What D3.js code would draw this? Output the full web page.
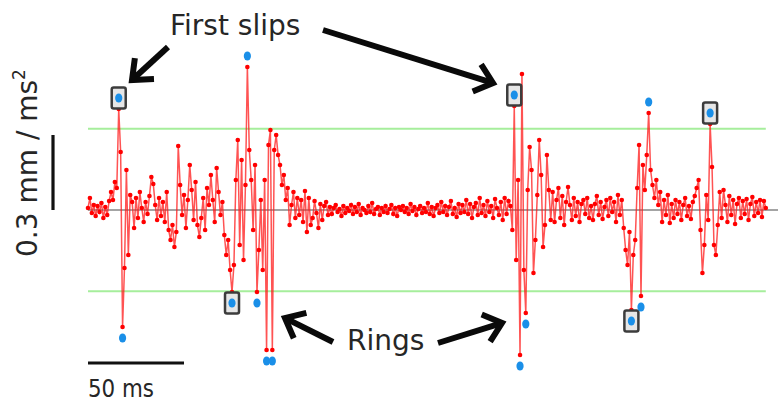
<!DOCTYPE html>
<html>
<head>
<meta charset="utf-8">
<script src="https://cdn.jsdelivr.net/npm/d3@7/dist/d3.min.js"></script>
<style>
  html, body { margin: 0; padding: 0; background: #fff; }
  svg { display: block; }
  text { font-family: "DejaVu Sans", Verdana, sans-serif; fill: #262626; }
</style>
</head>
<body>
<svg id="chart" width="778" height="403"></svg>
<script>
// Acceleration trace, one sample per ms, in µm/ms² (0.001 mm/ms²)
const accel = [
  8, 48, -12, 20, -24, 16, -8, 28, -32, 12,
  -20, 36, 72, 40, 112, 88, 404, 232, -468, -232,
  160, -180, 60, 32, -72, 48, -32, 72, 8, -48,
  32, -16, 56, 132, 104, 20, -40, 48, -24, 32,
  -48, 72, -80, -120, -60, -148, -88, 256, 100, -20,
  60, -72, 40, 180, 80, -40, 112, -60, -108, -32,
  48, -80, 88, 20, 140, 40, -48, 168, 72, -20,
  32, -100, -180, -120, -240, -328, -220, 120, 280, -140,
  200, -200, 100, 572, 240, 120, -80, 180, -328, -160,
  40, -240, 120, -560, 260, 320, -560, 240, 300, 220,
  180, 100, 140, 40, 88, -60, 20, 72, -32, 48,
  -20, 40, -48, 76, -88, 48, -60, -32, 36, -12,
  -72, 24, -40, 16, 32, -20,
  12, -16, 8, 20, -8, 4, -24, 16, -12, 8,
  -4, 20, -16, 12, -8, 24, -20, 8, 0, -12,
  16, -8, 28, -16, 4, 12, -20, 8, -8, 16,
  -12, 4, 20, -16, 8, -24, 12, 0, 16, -8,
  8, -16, 24, -4, 12, -20, 4, 16, -12, 8,
  -8, 28, -16, 12, -24, 8, 20, -12, 32, -8,
  16, -20, 12, 36, -16, 8, -28, 24, -12, 20,
  -8, 40, -16, 24, -32, 12, 28, -20, 48, -12,
  20, -24, 36, -8, 16, -32, 44, 8, -20, 32,
  -40, 48, -16, 36,
  16, -80, 416, -200, 120, -580, 544, -240, -412, 80,
  252, 160, -252, -120, 60, 280, 140, -148, -60, 220,
  80, -40, 72, -48, 40, 88, -32, 56, -60, 32,
  92, 20, -40, 48, -24, 32, -48, 24, 40, -16,
  48, -32, 16, -40, 24, 56, -20, 32, -36, 12,
  40, -24, 48, -8, 32, -48, 60, -20, 40, -72,
  -160, -220, -88, -400, -180, -120, 88, 260, -344, 180,
  80, 220, 388, 160, 100, 48, 120, 20, 72, -48,
  40, -20, 60, -52, 24, -32, 40, -16, 32, -40,
  20, 48, -24, 16, -36, 32, 56, 88, 120, -80,
  -252, -140, 60, -40, 344, 172, -140, -180, -60, 72,
  -32, 80, 20, -48, 56, -20, 40, -56, 24, 48,
  -32, 36, -16, 44, -40, 24, 52, -24, 32, -12,
  40, -28, 36, 8
];
const timeMs = accel.map((_, i) => i);

// Detection threshold (µm/ms²)
const threshold = 325;
// Samples (ms) whose peaks crossed the threshold
const peaksUp = [16, 83, 222, 292, 324];
const peaksDown = [18, 75, 88, 93, 96, 225, 228, 283, 288];
// Peaks flagged as the first slip of each event
const firstSlips = [16, 75, 222, 283, 324];

// Scale bars
const scaleBarAccel = 300;   // µm/ms² = 0.3 mm/ms²
const scaleBarTime = 50;     // ms

const svg = d3.select("#chart");

const x = d3.scaleLinear().domain([0, 353]).range([88, 765.8]);
const y = d3.scaleLinear().domain([-800, 800]).range([410, 10]);

// zero line
svg.append("line")
  .attr("x1", x(0)).attr("x2", 778)
  .attr("y1", y(0)).attr("y2", y(0))
  .attr("stroke", "#4a4a4a").attr("stroke-width", 1.2);

// threshold lines
svg.selectAll("line.thr").data([threshold, -threshold]).join("line")
  .attr("class", "thr")
  .attr("x1", x(0)).attr("x2", x(353))
  .attr("y1", d => y(d)).attr("y2", d => y(d))
  .attr("stroke", "#a6ee9c").attr("stroke-width", 2);

// trace
const line = d3.line().x((d, i) => x(timeMs[i])).y(d => y(d));
svg.append("path")
  .datum(accel)
  .attr("d", line)
  .attr("fill", "none")
  .attr("stroke", "#ff1a1a")
  .attr("stroke-opacity", 0.75)
  .attr("stroke-width", 1.5);

svg.append("g").selectAll("circle").data(accel).join("circle")
  .attr("cx", (d, i) => x(timeMs[i]))
  .attr("cy", d => y(d))
  .attr("r", 2.3)
  .attr("fill", "#ff0000");

// peak markers just beyond each crossing
const markOffset = 11;
const marks = peaksUp.map(i => ({ i, dir: -1 }))
  .concat(peaksDown.map(i => ({ i, dir: 1 })))
  .map(m => ({ ...m, cx: x(timeMs[m.i]), cy: y(accel[m.i]) + m.dir * markOffset }));

svg.append("g").selectAll("rect")
  .data(marks.filter(m => firstSlips.includes(m.i)))
  .join("rect")
  .attr("x", m => m.cx - 7).attr("y", m => m.cy - 10.5)
  .attr("width", 14).attr("height", 21).attr("rx", 2)
  .attr("fill", "#e6e6e6")
  .attr("stroke", "#3c3c3c").attr("stroke-width", 2.5);

svg.append("g").selectAll("ellipse").data(marks).join("ellipse")
  .attr("cx", m => m.cx).attr("cy", m => m.cy)
  .attr("rx", 3.6).attr("ry", 4.6)
  .attr("fill", "#1a8fe8");

// scale bars
const yBar = d3.scaleLinear().domain([0, scaleBarAccel]).range([y(0), y(scaleBarAccel)]);
svg.append("line")
  .attr("x1", 53).attr("x2", 53)
  .attr("y1", yBar(0)).attr("y2", yBar(scaleBarAccel))
  .attr("stroke", "#111").attr("stroke-width", 3.2);
svg.append("line")
  .attr("x1", x(0)).attr("x2", x(scaleBarTime))
  .attr("y1", 363).attr("y2", 363)
  .attr("stroke", "#111").attr("stroke-width", 3.2);

svg.append("text")
  .attr("x", x(0)).attr("y", 397)
  .attr("font-size", 24)
  .attr("textLength", 66)
  .attr("lengthAdjust", "spacingAndGlyphs")
  .text("50 ms");

const yl = svg.append("text")
  .attr("transform", "translate(37,257) rotate(-90)")
  .attr("font-size", 28);
yl.append("tspan").text("0.3 mm / ms");
yl.append("tspan").attr("font-size", 17).attr("dy", -12).text("2");

// annotations
svg.append("text").attr("x", 170).attr("y", 35).attr("font-size", 28).text("First slips");
svg.append("text").attr("x", 347).attr("y", 350).attr("font-size", 28).text("Rings");

const arrows = [
  [[168, 47], [132, 80]],
  [[323, 30], [493, 83]],
  [[333, 342], [285, 318]],
  [[438, 343], [502, 323]]
];
const headLen = 22, headAng = 40 * Math.PI / 180;
const ag = svg.append("g")
  .attr("fill", "none").attr("stroke", "#0a0a0a")
  .attr("stroke-width", 6).attr("stroke-linejoin", "miter");
arrows.forEach(([t, h]) => {
  const a = Math.atan2(t[1] - h[1], t[0] - h[0]);
  const p1 = [h[0] + headLen * Math.cos(a + headAng), h[1] + headLen * Math.sin(a + headAng)];
  const p2 = [h[0] + headLen * Math.cos(a - headAng), h[1] + headLen * Math.sin(a - headAng)];
  ag.append("path").attr("d", `M${t[0]},${t[1]}L${h[0] + 3 * Math.cos(a)},${h[1] + 3 * Math.sin(a)}`);
  ag.append("path").attr("d", `M${p1[0]},${p1[1]}L${h[0]},${h[1]}L${p2[0]},${p2[1]}`);
});
</script>
</body>
</html>
